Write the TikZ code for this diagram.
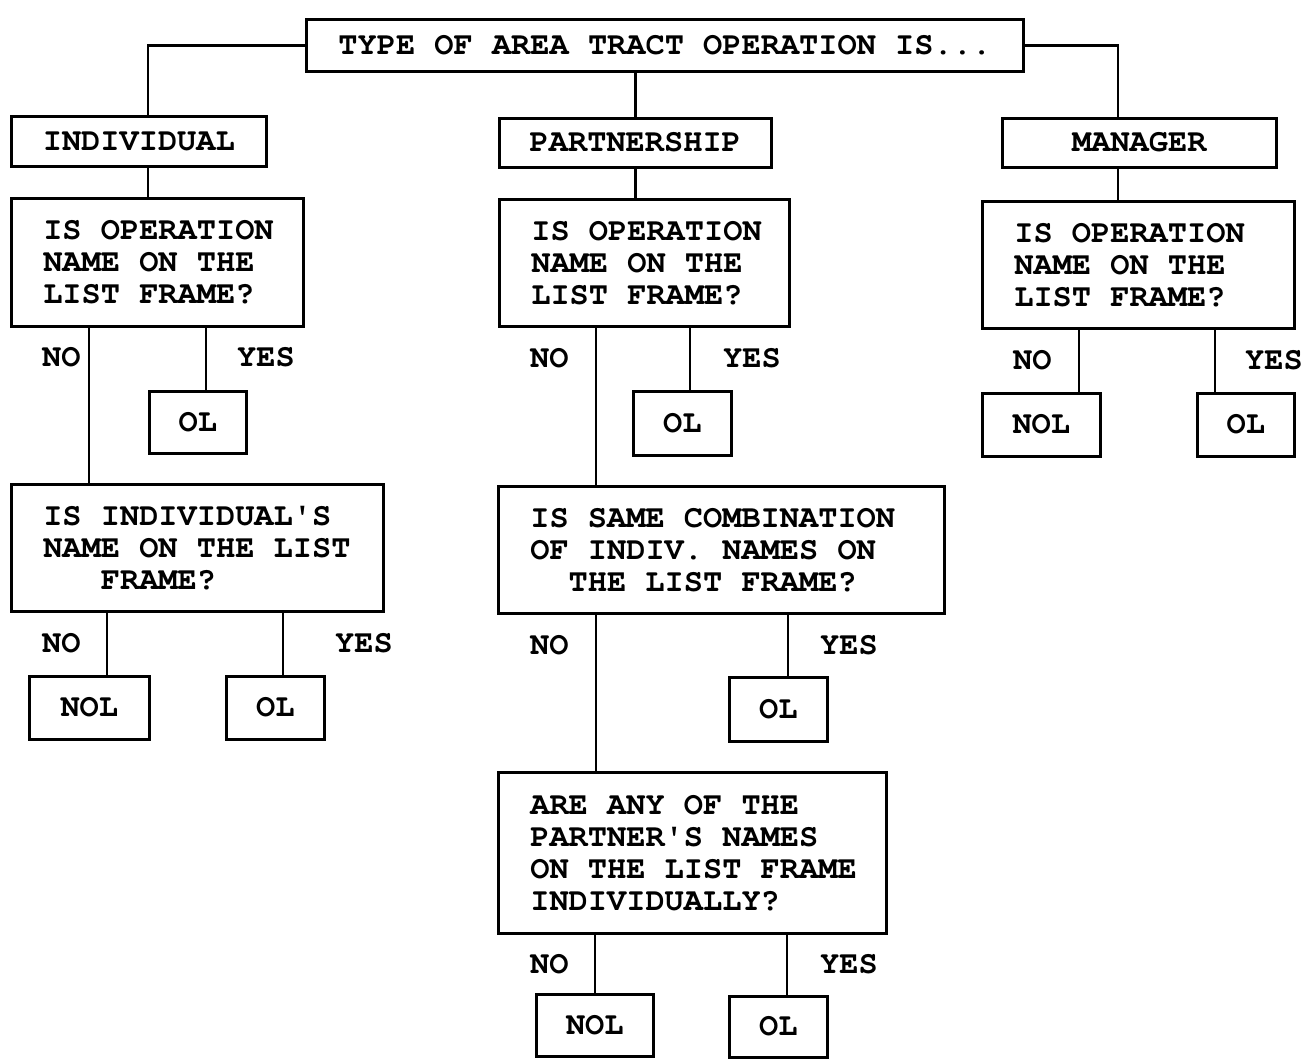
\documentclass[tikz,border=0pt]{standalone}
\usepackage[T1]{fontenc}
\usepackage{courier}
\usetikzlibrary{calc}
\newcommand\qtext[2]{\makebox[#1pt][l]{\hspace*{32pt}\begin{tabular}{@{}l@{}}\rule{0pt}{28.4pt}#2\end{tabular}}}
\newcommand\chind[1]{\hspace*{#1pt}}
\begin{document}
\begin{tikzpicture}[x=1pt,y=-1pt,
  every node/.style={font=\fontsize{32}{32}\selectfont\ttfamily\bfseries},
  bx/.style={draw, line width=2.6pt, inner sep=0pt, anchor=north west, text height=18pt, text depth=0pt},
  qb/.style={draw, line width=2.6pt, inner sep=0pt, anchor=north west},
  lbl/.style={anchor=west, inner sep=0pt, text height=18pt, text depth=0pt},
  ln/.style={line width=2.6pt}]
\useasboundingbox (0,0) rectangle (1312,1058);
% top
\node[bx, minimum width=717pt, minimum height=52pt] (top) at (305,18) {TYPE OF AREA TRACT OPERATION IS...};
% left column
\node[bx, minimum width=255pt, minimum height=50pt] (ind) at (10,115) {INDIVIDUAL};
\node[qb, minimum height=128pt] (q1) at (10,197) {\qtext{292}{IS OPERATION\\NAME ON THE\\LIST FRAME?}};
\node[bx, minimum width=97pt, minimum height=62pt] (ol1) at (148,390) {OL};
\node[qb, minimum height=127pt] (q2) at (10,483) {\qtext{372}{IS INDIVIDUAL\textquotesingle S\\NAME ON THE LIST\\\chind{57.6}FRAME?}};
\node[bx, minimum width=120pt, minimum height=63pt] (nol2) at (28,675) {NOL};
\node[bx, minimum width=98pt, minimum height=63pt] (ol2) at (225,675) {OL};
% middle column
\node[bx, minimum width=272pt, minimum height=49pt] (part) at (498,117) {PARTNERSHIP};
\node[qb, minimum height=127pt] (qp) at (498,198) {\qtext{290}{IS OPERATION\\NAME ON THE\\LIST FRAME?}};
\node[bx, minimum width=98pt, minimum height=64pt] (olp1) at (632,390) {OL};
\node[qb, minimum height=127pt] (q3) at (497,485) {\qtext{446}{IS SAME COMBINATION\\OF INDIV. NAMES ON\\\chind{38.4}THE LIST FRAME?}};
\node[bx, minimum width=98pt, minimum height=64pt] (olp2) at (728,676) {OL};
\node[qb, minimum height=161pt] (q4) at (497,771) {\qtext{388}{ARE ANY OF THE\\PARTNER\textquotesingle S NAMES\\ON THE LIST FRAME\\INDIVIDUALLY?}};
\node[bx, minimum width=117pt, minimum height=62pt] (nolp) at (535,993) {NOL};
\node[bx, minimum width=98pt, minimum height=61pt] (olp3) at (728,995) {OL};
% right column
\node[bx, minimum width=274pt, minimum height=49pt] (man) at (1001,117) {MANAGER};
\node[qb, minimum height=127pt] (qm) at (981,200) {\qtext{312}{IS OPERATION\\NAME ON THE\\LIST FRAME?}};
\node[bx, minimum width=118pt, minimum height=63pt] (nolm) at (981,392) {NOL};
\node[bx, minimum width=97pt, minimum height=63pt] (olm) at (1196,392) {OL};
% labels
\node[lbl] (l1) at (42,357) {NO};
\node[lbl] (l2) at (237,357) {YES};
\node[lbl] (l3) at (42,643) {NO};
\node[lbl] (l4) at (335,643) {YES};
\node[lbl] (l5) at (530,358) {NO};
\node[lbl] (l6) at (723,358) {YES};
\node[lbl] (l7) at (530,645) {NO};
\node[lbl] (l8) at (820,645) {YES};
\node[lbl] (l9) at (530,964) {NO};
\node[lbl] (l10) at (820,964) {YES};
\node[lbl] (l11) at (1013,360) {NO};
\node[lbl] (l12) at (1245,360) {YES};
% connectors
\draw[ln] (top.west) -| ($(ind.north west)+(138,0)$);
\draw[ln] (top.east) -| ($(man.north west)+(117,0)$);
\draw[ln] (top.south -| part.north) -- (part.north);
\draw[ln] ($(ind.south west)+(138,0)$) -- ($(q1.north west)+(138,0)$);
\draw[ln] ($(q1.south west)+(79,0)$) -- ($(q2.north west)+(79,0)$);
\draw[ln] ($(ol1.north west |- q1.south)+(58,0)$) -- ($(ol1.north west)+(58,0)$);
\draw[ln] ($(nol2.north west |- q2.south)+(79,0)$) -- ($(nol2.north west)+(79,0)$);
\draw[ln] ($(ol2.north west |- q2.south)+(58,0)$) -- ($(ol2.north west)+(58,0)$);
\draw[ln] (part.south) -- (part.south |- qp.north);
\draw[ln] ($(qp.south west)+(98,0)$) -- ($(qp.south west |- q3.north)+(98,0)$);
\draw[ln] ($(olp1.north west |- qp.south)+(58,0)$) -- ($(olp1.north west)+(58,0)$);
\draw[ln] ($(q3.south west)+(99,0)$) -- ($(q3.south west |- q4.north)+(99,0)$);
\draw[ln] ($(olp2.north west |- q3.south)+(60,0)$) -- ($(olp2.north west)+(60,0)$);
\draw[ln] (nolp.north |- q4.south) -- (nolp.north);
\draw[ln] ($(olp3.north west |- q4.south)+(59,0)$) -- ($(olp3.north west)+(59,0)$);
\draw[ln] ($(man.south west)+(117,0)$) -- ($(man.south west |- qm.north)+(117,0)$);
\draw[ln] ($(nolm.north west |- qm.south)+(98,0)$) -- ($(nolm.north west)+(98,0)$);
\draw[ln] ($(olm.north west |- qm.south)+(19,0)$) -- ($(olm.north west)+(19,0)$);
\end{tikzpicture}
\end{document}
